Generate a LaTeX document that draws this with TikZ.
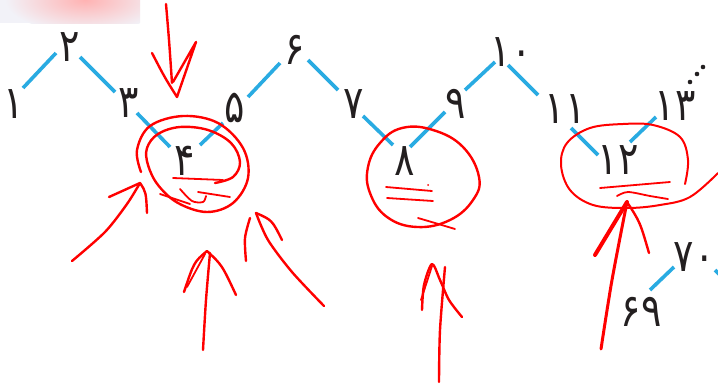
\documentclass[tikz,border=0pt]{standalone}
\usepackage{fontspec}
\newfontfamily\pfont{DejaVu Sans}
\usetikzlibrary{calc}
\definecolor{segblue}{HTML}{29ABE2}
\definecolor{digitc}{HTML}{231F20}
\definecolor{penred}{HTML}{FF0000}
\definecolor{haze}{HTML}{F2F2F8}
\newcommand{\pnum}[1]{\scalebox{1}[1.2]{#1}}
\begin{document}
\begin{tikzpicture}[x=1pt,y=-1pt,
  num/.style={font=\pfont\fontsize{38}{38}\selectfont, inner sep=0pt, text=digitc, text height=28pt, text depth=0pt},
  seg/.style={draw=segblue, line width=3.6pt},
  pen/.style={draw=penred, line width=2.4pt, line cap=round, line join=round},
  thinpen/.style={draw=penred, line width=1.8pt, line cap=round, line join=round}]
\useasboundingbox (0,0) rectangle (718,386);
\clip (0,0) rectangle (718,386);
\fill[white] (0,0) rectangle (718,386);
% faint smudge at the top left
\fill[haze] (0,0) rectangle (140,23);
\begin{scope}
\clip (0,0) rectangle (140,23);
\shade[inner color=red!30, outer color=haze] (85,0) ellipse (80 and 32);
\end{scope}
% numbers
\node[num] (n1) at (14,104) {\pnum{۱}};
\node[num] (n2) at (70,47) {\pnum{۲}};
\node[num] (n3) at (129,103) {\pnum{۳}};
\node[num] (n4) at (185,161) {\pnum{۴}};
\node[num] (n5) at (235,108) {\pnum{۵}};
\node[num] (n6) at (295,50) {\pnum{۶}};
\node[num] (n7) at (354,104) {\pnum{۷}};
\node[num] (n8) at (405,161) {\pnum{۸}};
\node[num] (n9) at (456,104) {\pnum{۹}};
\node[num] (n10) at (511,52) {\pnum{۱۰}};
\node[num] (n11) at (565,109) {\pnum{۱۱}};
\node[num] (n12) at (618,160) {\pnum{۱۲}};
\node[num] (n13) at (675,106) {\pnum{۱۳}};
\node[num] (n69) at (641,312) {\pnum{۶۹}};
\node[num] (n70) at (694,257) {\pnum{۷۰}};
\coordinate (n71) at (745,300);
% continuation dots after 13
\foreach \p in {(690,82),(697,74),(703,67)} \fill[digitc] \p circle (2.3);
% blue connectors
\draw[seg] ([shift={(9,-16)}]n1.center) -- ([shift={(-14,6)}]n2.center);
\draw[seg] ([shift={(10,10)}]n2.center) -- ([shift={(-14,-11)}]n3.center);
\draw[seg] ([shift={(8,10)}]n3.center) -- ([shift={(-15,-14)}]n4.center);
\draw[seg] ([shift={(15,-16)}]n4.center) -- ([shift={(-12,15)}]n5.center);
\draw[seg] ([shift={(13,-11)}]n5.center) -- ([shift={(-15,13)}]n6.center);
\draw[seg] ([shift={(13,10)}]n6.center) -- ([shift={(-16,-14)}]n7.center);
\draw[seg] ([shift={(9,12)}]n7.center) -- ([shift={(-12,-16)}]n8.center);
\draw[seg] ([shift={(5,-14)}]n8.center) -- ([shift={(-11,8)}]n9.center);
\draw[seg] ([shift={(9,-14)}]n9.center) -- ([shift={(-16,10)}]n10.center);
\draw[seg] ([shift={(-3,13)}]n10.center) -- ([shift={(-27,-14)}]n11.center);
\draw[seg] ([shift={(6,19)}]n11.center) -- ([shift={(-20,-5)}]n12.center);
\draw[seg] ([shift={(12,-18)}]n12.center) -- ([shift={(-19,11)}]n13.center);
\draw[seg] ([shift={(9,-22)}]n69.center) -- ([shift={(-20,10)}]n70.center);
\draw[seg] ([shift={(21,13)}]n70.center) -- (n71);
% red annotations: top arrow
\draw[pen] plot[smooth] coordinates {(166,4) (169,40) (172,83)};
\draw[pen] (152,53) .. controls (165,78) .. (177,97) -- (196,42) -- (173,82);
% spiral around 4
\draw[pen] plot[smooth, tension=0.6] coordinates {(215,183) (233,177) (240,162) (231,143) (208,130) (180,127) (158,134) (147,148) (148,165) (158,185) (178,203) (207,212) (233,203) (248,178) (243,148) (218,123) (183,116) (150,126) (137,150) (141,172)};
\draw[thinpen] (173,178) -- (223,180);
\draw[thinpen] (160,194) -- (190,204);
\draw[thinpen] plot[smooth] coordinates {(180,189) (192,201) (203,202) (206,196)};
\draw[thinpen] (198,192) -- (230,197);
% arrows around 4
\draw[pen] plot[smooth] coordinates {(72,261) (105,232) (127,204) (140,183)};
\draw[pen] (109,197) -- (140,183) .. controls (146,192) .. (147,213);
\draw[pen] plot[smooth] coordinates {(203,350) (206,300) (210,253)};
\draw[pen] (184,292) .. controls (194,262) .. (207,251) .. controls (222,265) .. (236,295);
\draw[thinpen] (187,287) -- (205,254);
\draw[pen] plot[smooth] coordinates {(324,306) (292,272) (268,240) (256,213)};
\draw[pen] plot[smooth] coordinates {(246,261) (245,238) (250,218)};
\draw[pen] (256,213) .. controls (272,220) .. (282,240);
% circle around 8
\draw[pen] plot[smooth cycle, tension=0.7] coordinates {(402,128) (433,130) (463,147) (479,177) (473,200) (450,220) (417,227) (387,217) (370,193) (368,167) (380,143)};
\draw[thinpen] plot[smooth] coordinates {(418,218) (435,223) (455,229)};
\draw[thinpen] (386,187) -- (432,191);
\draw[thinpen] (387,198) -- (433,201);
\fill[penred] (428,185) circle (1);
\draw[pen] plot[smooth] coordinates {(439,382) (440,330) (445,267)};
\draw[pen] plot[smooth] coordinates {(422,310) (424,285) (432,264) (440,280) (449,300) (462,317)};
\draw[thinpen] (421,300) -- (432,266);
% circle around 12
\draw[pen, line width=2pt] plot[smooth, tension=0.6] coordinates {(685,184) (688,160) (680,137) (653,125) (623,124) (590,128) (567,143) (561,165) (570,190) (593,205) (627,208) (660,205) (690,197) (718,173)};
\draw[thinpen] (600,188) -- (670,182);
\draw[thinpen] plot[smooth] coordinates {(617,196) (628,192) (650,196) (668,199)};
\draw[pen, line width=3pt] plot[smooth] coordinates {(601,349) (612,280) (627,202)};
\draw[pen, line width=4pt] (595,255) -- (627,202);
\draw[pen] (627,202) .. controls (640,222) .. (649,253);
\end{tikzpicture}
\end{document}
